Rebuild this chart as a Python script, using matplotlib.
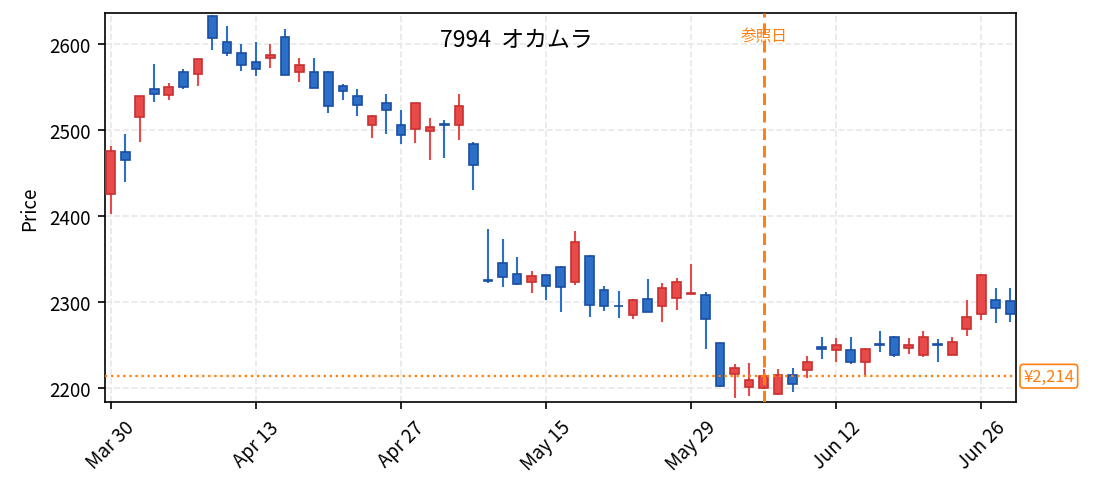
import numpy as np
import pandas as pd
import matplotlib
matplotlib.use("Agg")
import matplotlib.pyplot as plt
from matplotlib.patches import Rectangle

plt.rcParams['font.family'] = ['Noto Sans CJK JP', 'DejaVu Sans']

# trading days (TSE calendar, 2026-03-30 .. 2026-06-30)
holidays = ['2026-04-29', '2026-05-04', '2026-05-05', '2026-05-06']
dates = pd.bdate_range('2026-03-30', '2026-06-30')
dates = dates[~dates.isin(pd.to_datetime(holidays))]

opens = [2426, 2475, 2515, 2548, 2541, 2567, 2565, 2632, 2602, 2589,
         2579, 2584, 2608, 2567, 2568, 2567, 2551, 2540, 2506, 2532,
         2506, 2501, 2499, 2507, 2506, 2484, 2326, 2346, 2333, 2324,
         2332, 2341, 2324, 2354, 2314, 2296, 2285, 2304, 2295, 2305,
         2310, 2308, 2253, 2216, 2201, 2200, 2193, 2215, 2221, 2248,
         2244, 2244, 2230, 2251, 2260, 2247, 2239, 2251, 2239, 2269,
         2286, 2303, 2301]
highs = [2482, 2495, 2540, 2577, 2555, 2571, 2582, 2634, 2621, 2600,
         2602, 2600, 2617, 2584, 2584, 2569, 2554, 2548, 2517, 2542,
         2523, 2531, 2514, 2512, 2542, 2486, 2385, 2373, 2352, 2336,
         2332, 2342, 2383, 2355, 2319, 2313, 2304, 2327, 2322, 2328,
         2344, 2312, 2253, 2228, 2229, 2222, 2222, 2223, 2238, 2260,
         2258, 2260, 2247, 2266, 2261, 2258, 2266, 2257, 2259, 2303,
         2333, 2316, 2316]
lows = [2402, 2440, 2486, 2533, 2535, 2548, 2551, 2593, 2586, 2569,
        2563, 2572, 2564, 2556, 2549, 2520, 2535, 2516, 2491, 2495,
        2484, 2485, 2465, 2467, 2489, 2430, 2322, 2318, 2320, 2311,
        2303, 2289, 2320, 2283, 2290, 2282, 2280, 2288, 2277, 2291,
        2310, 2246, 2201, 2189, 2191, 2199, 2192, 2196, 2212, 2234,
        2231, 2228, 2215, 2242, 2236, 2240, 2236, 2231, 2239, 2261,
        2279, 2276, 2277]
closes = [2476, 2465, 2540, 2542, 2550, 2550, 2582, 2607, 2590, 2576,
          2571, 2587, 2564, 2576, 2549, 2528, 2545, 2529, 2516, 2523,
          2494, 2531, 2503, 2506, 2528, 2459, 2325, 2329, 2321, 2330,
          2319, 2318, 2370, 2297, 2295, 2295, 2303, 2288, 2316, 2323,
          2311, 2280, 2203, 2224, 2210, 2214, 2215, 2205, 2230, 2246,
          2250, 2230, 2246, 2250, 2239, 2250, 2259, 2250, 2254, 2283,
          2331, 2293, 2286]

title = '7994  オカムラ'
ref_date = pd.Timestamp('2026-06-05')
ref_price = 2214

up_face, up_edge = '#E84A4A', '#C8302F'
dn_face, dn_edge = '#2B6FC8', '#1A4EA2'
orange = '#FF7F0E'

fig = plt.figure(figsize=(7.3, 3.28), dpi=150)
ax = fig.add_axes([0.0959, 0.1809, 0.832, 0.7906])

x = np.arange(len(dates))
width = 0.6
for i in x:
    o, h, l, c = opens[i], highs[i], lows[i], closes[i]
    up = c >= o
    face = up_face if up else dn_face
    edge = up_edge if up else dn_edge
    ax.vlines(i, l, h, color=face, linewidth=1.0, zorder=2)
    bottom = min(o, c)
    height = max(abs(c - o), 0.8)
    ax.add_patch(Rectangle((i - width / 2, bottom), width, height,
                           facecolor=face, edgecolor=edge, linewidth=0.8, zorder=3))

ref_idx = int(np.where(dates == ref_date)[0][0])
ax.axvline(ref_idx, color=orange, linestyle=(0, (4, 2)), linewidth=1.4, zorder=4)
ax.axhline(ref_price, color=orange, linestyle=':', linewidth=1.1, zorder=4)
ax.text(ref_idx, 2610, '参照日', color=orange, fontsize=7.5, ha='center', va='center')
ax.text(1.008, ref_price, f'¥{ref_price:,}', transform=ax.get_yaxis_transform(),
        color=orange, fontsize=8, ha='left', va='center',
        bbox=dict(boxstyle='round,pad=0.2', facecolor='white', edgecolor=orange, linewidth=0.8))

ax.text(0.451, 0.934, title, transform=ax.transAxes, fontsize=11, ha='center', va='center')

ticks = x[::10]
ax.set_xticks(ticks)
ax.set_xticklabels([d.strftime('%b %d') for d in dates[ticks]], rotation=45, fontsize=9)
ax.set_yticks([2200, 2300, 2400, 2500, 2600])
ax.tick_params(axis='y', labelsize=9)
ax.set_ylabel('Price', fontsize=9)
ax.set_xlim(-0.4, 62.4)
ax.set_ylim(2184, 2636)
ax.grid(True, linestyle='--', color='#e8e8e8', linewidth=0.8)
ax.set_axisbelow(True)

fig.savefig('out.png', dpi=150)
